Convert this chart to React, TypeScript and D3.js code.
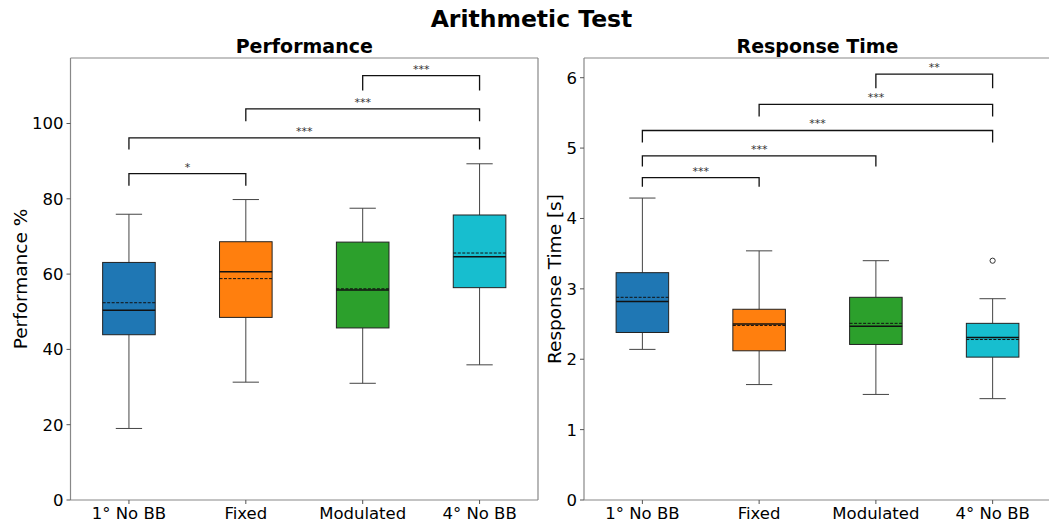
import React from "react";
import * as d3 from "d3";

const categories = ["1° No BB", "Fixed", "Modulated", "4° No BB"];
const colors = ["#1f77b4", "#ff7f0e", "#2ca02c", "#17becf"];

// performance %: [low whisker, Q1, median, Q3, high whisker], mean
const perfStats = [
  [19.0, 43.9, 50.4, 63.1, 75.9],
  [31.3, 48.5, 60.6, 68.6, 79.8],
  [31.0, 45.7, 55.8, 68.5, 77.5],
  [35.9, 56.4, 64.6, 75.7, 89.3],
];
const perfMeans = [52.4, 58.8, 56.1, 65.6];
const perfOutliers: number[][] = [[], [], [], []];
// [from, to, bar y, leg bottom y, label]
const perfSig: [number, number, number, number, string][] = [
  [0, 1, 86.7, 83.5, "*"],
  [0, 3, 96.2, 93.1, "***"],
  [1, 3, 103.9, 100.6, "***"],
  [2, 3, 112.7, 108.8, "***"],
];
const perfTicks = [0, 20, 40, 60, 80, 100];

const rtStats = [
  [2.14, 2.38, 2.82, 3.23, 4.29],
  [1.64, 2.12, 2.5, 2.71, 3.54],
  [1.5, 2.21, 2.47, 2.88, 3.4],
  [1.44, 2.03, 2.31, 2.51, 2.86],
];
const rtMeans = [2.88, 2.48, 2.51, 2.28];
const rtOutliers: number[][] = [[], [], [], [3.4]];
const rtSig: [number, number, number, number, string][] = [
  [0, 1, 4.58, 4.45, "***"],
  [0, 2, 4.89, 4.74, "***"],
  [0, 3, 5.25, 5.08, "***"],
  [1, 3, 5.62, 5.45, "***"],
  [2, 3, 6.05, 5.85, "**"],
];
const rtTicks = [0, 1, 2, 3, 4, 5, 6];

const FONT = "DejaVu Sans, sans-serif";

type PanelProps = {
  left: number;
  right: number;
  top: number;
  bottom: number;
  yMax: number;
  ticks: number[];
  stats: number[][];
  means: number[];
  outliers: number[][];
  sig: [number, number, number, number, string][];
  title: string;
  yLabel: string;
  yLabelX: number;
  drawRight: boolean;
};

function Panel(p: PanelProps) {
  const x = d3.scaleLinear().domain([0.5, 4.5]).range([p.left, p.right]);
  const y = d3.scaleLinear().domain([0, p.yMax]).range([p.bottom, p.top]);
  const bw = x(1.225) - x(0.775);
  const capW = bw / 2;
  return (
    <g>
      <text x={(p.left + p.right) / 2} y={53} textAnchor="middle" fontFamily={FONT} fontWeight="bold" fontSize={19}>
        {p.title}
      </text>
      {p.stats.map((s, i) => {
        const cx = x(i + 1);
        return (
          <g key={i}>
            <line x1={cx} x2={cx} y1={y(s[0])} y2={y(s[1])} stroke="#444" strokeWidth={1} />
            <line x1={cx} x2={cx} y1={y(s[3])} y2={y(s[4])} stroke="#444" strokeWidth={1} />
            <line x1={cx - capW / 2} x2={cx + capW / 2} y1={y(s[0])} y2={y(s[0])} stroke="#444" strokeWidth={1} />
            <line x1={cx - capW / 2} x2={cx + capW / 2} y1={y(s[4])} y2={y(s[4])} stroke="#444" strokeWidth={1} />
            <rect x={cx - bw / 2} y={y(s[3])} width={bw} height={y(s[1]) - y(s[3])} fill={colors[i]} stroke="#222" strokeWidth={1} />
            <line x1={cx - bw / 2} x2={cx + bw / 2} y1={y(s[2])} y2={y(s[2])} stroke="#111" strokeWidth={1.5} />
            <line x1={cx - bw / 2} x2={cx + bw / 2} y1={y(p.means[i])} y2={y(p.means[i])} stroke="#111" strokeWidth={1} strokeDasharray="3,1.5" />
            {p.outliers[i].map((o, j) => (
              <circle key={j} cx={cx} cy={y(o)} r={2.6} fill="none" stroke="#333" strokeWidth={1} />
            ))}
          </g>
        );
      })}
      {p.sig.map(([a, b, bar, leg, label], k) => (
        <g key={k}>
          <path
            d={`M${x(a + 1)},${y(leg)}V${y(bar)}H${x(b + 1)}V${y(leg)}`}
            fill="none"
            stroke="#111"
            strokeWidth={1.3}
          />
          <text x={(x(a + 1) + x(b + 1)) / 2} y={y(bar) - 3} textAnchor="middle" fontFamily={FONT} fontSize={11} fill="#333">
            {label}
          </text>
        </g>
      ))}
      {/* frame */}
      <line x1={p.left} x2={p.left} y1={p.top} y2={p.bottom} stroke="#888" strokeWidth={1.2} />
      <line x1={p.left} x2={p.right} y1={p.bottom} y2={p.bottom} stroke="#888" strokeWidth={1.2} />
      <line x1={p.left} x2={p.right} y1={p.top} y2={p.top} stroke="#888" strokeWidth={1.2} />
      {p.drawRight && <line x1={p.right} x2={p.right} y1={p.top} y2={p.bottom} stroke="#888" strokeWidth={1.2} />}
      {p.ticks.map((t) => (
        <g key={t}>
          <line x1={p.left - 4} x2={p.left} y1={y(t)} y2={y(t)} stroke="#555" />
          <text x={p.left - 7} y={y(t)} dy="0.36em" textAnchor="end" fontFamily={FONT} fontSize={16.5}>
            {t}
          </text>
        </g>
      ))}
      {categories.map((c, i) => (
        <g key={c}>
          <line x1={x(i + 1)} x2={x(i + 1)} y1={p.bottom} y2={p.bottom + 4} stroke="#555" />
          <text x={x(i + 1)} y={p.bottom + 19} textAnchor="middle" fontFamily={FONT} fontSize={16.5}>
            {c}
          </text>
        </g>
      ))}
      <text
        transform={`translate(${p.yLabelX},${(p.top + p.bottom) / 2}) rotate(-90)`}
        textAnchor="middle"
        fontFamily={FONT}
        fontSize={18.5}
      >
        {p.yLabel}
      </text>
    </g>
  );
}

export default function App() {
  return (
    <svg width={1049} height={524} style={{ position: "absolute", left: 0, top: 0, background: "#fff", overflow: "hidden" }}>
      <text x={531.5} y={27} textAnchor="middle" fontFamily={FONT} fontWeight="bold" fontSize={23.5}>
        Arithmetic Test
      </text>
      <Panel
        left={70.5}
        right={538}
        top={58}
        bottom={500}
        yMax={117.4}
        ticks={perfTicks}
        stats={perfStats}
        means={perfMeans}
        outliers={perfOutliers}
        sig={perfSig}
        title="Performance"
        yLabel="Performance %"
        yLabelX={26.5}
        drawRight={true}
      />
      <Panel
        left={584}
        right={1051}
        top={58}
        bottom={500}
        yMax={6.28}
        ticks={rtTicks}
        stats={rtStats}
        means={rtMeans}
        outliers={rtOutliers}
        sig={rtSig}
        title="Response Time"
        yLabel="Response Time [s]"
        yLabelX={560.5}
        drawRight={false}
      />
    </svg>
  );
}
